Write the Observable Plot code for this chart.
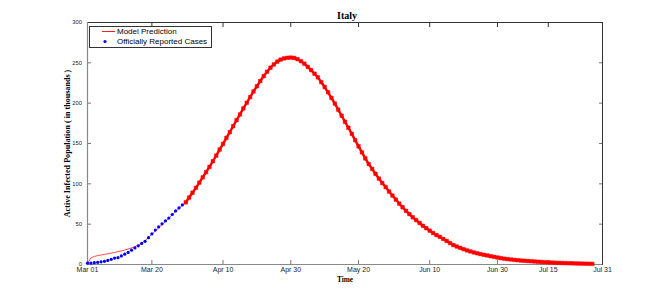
<!DOCTYPE html>
<html>
<head>
<meta charset="utf-8">
<script src="https://cdn.jsdelivr.net/npm/d3@7"></script>
<script src="https://cdn.jsdelivr.net/npm/@observablehq/plot@0.6"></script>
<style>
  html, body { margin: 0; padding: 0; background: #fff; }
  #wrap { position: relative; width: 664px; height: 299px; }
  #legend {
    position: absolute; left: 89px; top: 26px; width: 121px; height: 20px;
    border: 1px solid #333; background: #fff;
    font-family: "Liberation Sans", Arial, sans-serif; font-size: 8px; color: #000;
  }
  #legend .row { position: absolute; left: 0; height: 10px; line-height: 10px; white-space: nowrap; }
  #legend .lbl { position: absolute; left: 27px; top: 0; }
</style>
</head>
<body>
<div id="wrap">
  <div id="chart"></div>
  <div id="legend">
    <div class="row" style="top:0px;">
      <svg width="26" height="10" style="position:absolute;left:0;top:0"><line x1="12" x2="25" y1="4.5" y2="4.5" stroke="#ff2020" stroke-width="1"/></svg>
      <span class="lbl">Model Prediction</span>
    </div>
    <div class="row" style="top:10px;">
      <svg width="26" height="10" style="position:absolute;left:0;top:0"><circle cx="15" cy="4.5" r="1.6" fill="#0000ff"/></svg>
      <span class="lbl">Officially Reported Cases</span>
    </div>
  </div>
</div>
<script>
// ---- Data (thousands of active infected) ----
const startDate = "2020-03-01";
// Officially reported active cases, daily from Mar 01 to Mar 29
const reportedCases = [1.6, 1.8, 2.3, 2.7, 3.3, 3.9, 5.1, 6.4, 8.0, 8.5,
  10.6, 12.8, 15.0, 17.8, 20.6, 23.1, 26.1, 28.7, 33.2, 37.9,
  42.7, 46.6, 50.4, 54.0, 57.5, 62.0, 66.4, 70.1, 73.9];
// Model prediction, daily from Mar 01 (day 0) to Jul 28 (day 149)
const modelPrediction = [1.5, 8, 10, 11, 11.8, 12.5, 13.3, 14.1, 15, 15.9,
  16.9, 18, 19.2, 20.6, 22.1, 24, 26.5, 29.5, 33.5, 37.5,
  41.5, 45.5, 49.5, 53.5, 57.5, 61.5, 65.5, 69.5, 73.5, 77,
  83, 89, 95, 101.5, 108, 114.5, 121, 128, 135, 142.5,
  149.5, 157, 164, 171.5, 179, 186, 193.5, 200.5, 207.5, 214.5,
  221, 227.5, 233.5, 239, 244, 248, 251.5, 254, 255.5, 256.3,
  256.5, 256, 254.5, 252, 249, 245, 241, 236.5, 232, 226,
  220, 213.5, 206.5, 199.5, 192, 184.5, 177, 169.5, 162, 154,
  146.5, 139, 131.5, 124.5, 118.5, 112.5, 106.5, 101, 96, 90.5,
  85.5, 80.5, 75.5, 71, 66.5, 62.5, 58.5, 55, 51.5, 48,
  45, 42, 39, 36.5, 34.2, 31.7, 29.2, 26.6, 24, 22.3,
  20.6, 19, 17.5, 16.2, 15, 13.9, 12.9, 12, 11.2, 10.3,
  9.5, 8.7, 7.9, 7.2, 6.7, 6.2, 5.7, 5.3, 4.9, 4.6,
  4.3, 4.0, 3.7, 3.4, 3.1, 2.9, 2.6, 2.4, 2.2, 2.0,
  1.9, 1.7, 1.6, 1.5, 1.3, 1.2, 1.1, 1.0, 0.9, 0.8];
const predictionMarkerStart = 29; // model shown with markers from Mar 30 on
const xTickLabels = ["Mar 01", "Mar 20", "Apr 10", "Apr 30", "May 20", "Jun 10", "Jun 30", "Jul 15", "Jul 31"];
const yTicks = [0, 50, 100, 150, 200, 250, 300];
const titleText = "Italy";
const xLabel = "Time";
const yLabel = "Active Infected Population ( in thousands )";

// ---- Build tables ----
const d0 = d3.utcParse("%Y-%m-%d")(startDate);
const dayDate = (i) => d3.utcDay.offset(d0, i);
const reported = reportedCases.map((v, i) => ({date: dayDate(i), value: v}));
const model = modelPrediction.map((v, i) => ({date: dayDate(i), value: v}));
const modelMarkers = model.slice(predictionMarkerStart);
const parseTick = d3.utcParse("%b %d %Y");
const xTicks = xTickLabels.map(s => parseTick(s + " 2020"));
const xDomain = [xTicks[0], xTicks[xTicks.length - 1]];
const fmt = d3.utcFormat("%b %d");

const tickFont = {fontFamily: "Liberation Sans, Arial, sans-serif"};
const serifBold = {fontFamily: "Liberation Serif, Times New Roman, serif", fontWeight: "bold", fill: "#000"};

const chart = Plot.plot({
  width: 664,
  height: 299,
  marginLeft: 87,
  marginRight: 62,
  marginTop: 22,
  marginBottom: 35,
  style: {background: "#fff", color: "#000", fontFamily: "Liberation Sans, Arial, sans-serif"},
  x: {type: "utc", domain: xDomain},
  y: {domain: [0, 300]},
  marks: [
    Plot.axisX({ticks: xTicks, tickFormat: fmt, tickSize: 0, tickPadding: 3, label: null, fontSize: 7, stroke: "none", fill: "#222", ...tickFont}),
    Plot.axisY({ticks: yTicks, tickSize: 0, tickPadding: 5.5, label: null, fontSize: 5.8, fill: "#222", ...tickFont}),
    Plot.axisX({ticks: xTicks, anchor: "bottom", tickSize: -4, tickFormat: () => "", label: null, stroke: "#777"}),
    Plot.axisX({ticks: xTicks, anchor: "top", tickSize: -4, tickFormat: () => "", label: null, stroke: "#333"}),
    Plot.axisY({ticks: yTicks, anchor: "left", tickSize: -4, tickFormat: () => "", label: null, stroke: "#777"}),
    Plot.axisY({ticks: yTicks, anchor: "right", tickSize: -4, tickFormat: () => "", label: null, stroke: "#777"}),
    Plot.frame({stroke: "#333", strokeWidth: 1}),
    Plot.ruleY([0], {stroke: "#888", strokeWidth: 1.2}),
    Plot.ruleX([xDomain[0]], {stroke: "#888", strokeWidth: 1.2}),
    Plot.line(model, {x: "date", y: "value", stroke: "#ff0000", strokeWidth: 0.7}),
    Plot.dot(reported, {x: "date", y: "value", r: 1.6, fill: "#0000ff", stroke: "none"}),
    Plot.line(modelMarkers, {x: "date", y: "value", stroke: "#ff0000", strokeWidth: 2.4}),
    Plot.dot(modelMarkers, {x: "date", y: "value", symbol: "square", r: 2.0, fill: "#ff0000", stroke: "#ff0000", strokeWidth: 0.5}),
    Plot.text([titleText], {frameAnchor: "top", dy: -11, dx: 2, fontSize: 10, ...serifBold}),
    Plot.text([xLabel], {frameAnchor: "bottom", dy: 17, fontSize: 7.3, ...serifBold}),
    Plot.text([yLabel], {frameAnchor: "left", dx: -20, rotate: -90, textAnchor: "middle", fontSize: 8.1, ...serifBold})
  ]
});
document.getElementById("chart").appendChild(chart);
</script>
</body>
</html>
